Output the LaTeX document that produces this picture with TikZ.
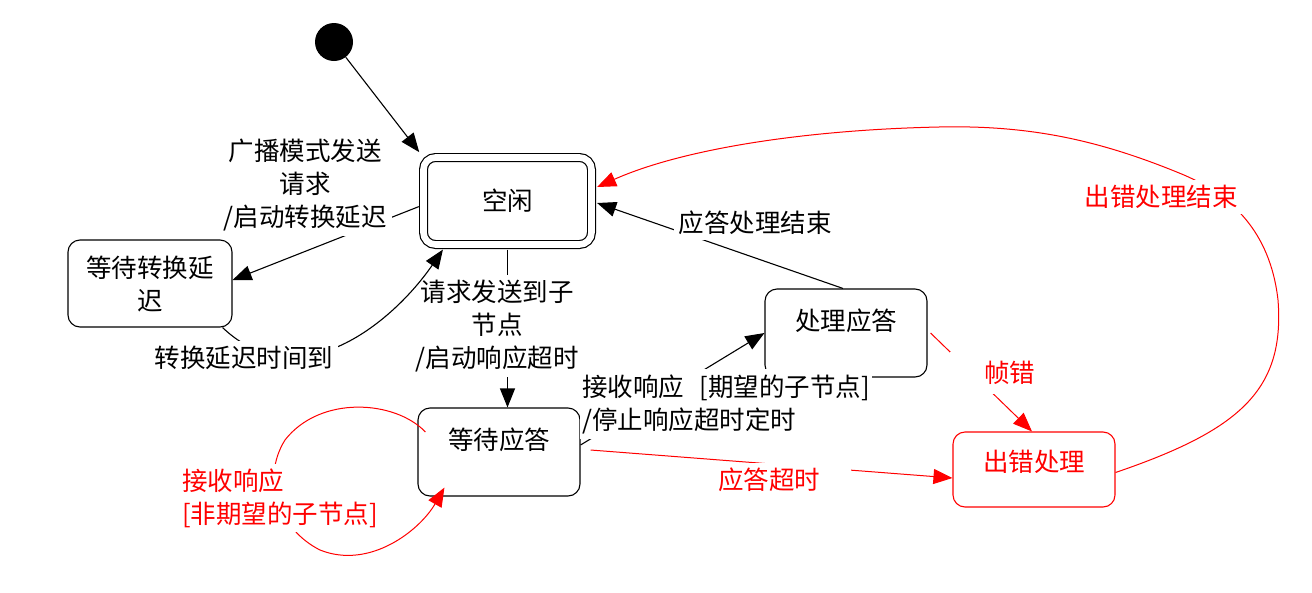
\documentclass[tikz,border=0pt]{standalone}
\usepackage{fontspec}
\setmainfont{Noto Sans CJK SC}
\usetikzlibrary{arrows.meta}

\begin{document}
\begin{tikzpicture}[x=1pt, y=-1pt, font=\fontsize{25.5pt}{33pt}\selectfont,
	state/.style={draw, rounded corners=12pt, line width=1.1pt, minimum width=162pt, minimum height=88pt},
	lbl/.style={fill=white, inner sep=5pt},
	>={Triangle[length=19pt, width=15pt]}]

	\path[use as bounding box, fill=white] (0,0) rectangle (1312,592);

	\node[circle, fill, minimum size=38pt, inner sep=0pt] (start) at (334,42) {};
	\node[state, double, double distance=6.6pt, line width=1.2pt, minimum width=168pt, minimum height=87pt] (idle) at (507.5,201) {空闲};
	\node[state, align=center, minimum width=164pt, minimum height=87pt] (wait) at (150,283.5) {等待转换延\\迟};
	\node[state, text depth=27pt] (resp) at (499,452) {等待应答};
	\node[state, text depth=27pt] (proc) at (846,333) {处理应答};
	\node[state, red, text depth=18pt, minimum height=75pt] (fault) at (1034,469.5) {出错处理};

	% black transitions
	\draw[->, line width=1.1pt, shorten >=6pt] (start) -- (idle.north west);
	\draw[->, line width=1.1pt, shorten <=4.5pt] ([yshift=-4pt]idle.west) -- ([yshift=3.5pt]wait.east);
	\node[lbl, align=center] (l1) at (305,185) {广播模式发送\\请求\\/启动转换延迟};

	\draw[->, line width=1.1pt, shorten <=4.5pt] (idle.south) -- (idle.south |- resp.north);
	\node[lbl, align=center, inner xsep=0pt] (l3) at (497,326) {请求发送到子\\节点\\/启动响应超时};

	\draw[->, line width=1.1pt] ([xshift=-10pt]wait.south east) .. controls +(78,74) and +(-48,70) .. ([xshift=20pt, yshift=-4.5pt]idle.south west);
	\node[lbl] (l2) at (244,358) {转换延迟时间到};

	\draw[->, line width=1.1pt] ([yshift=7pt]resp.east) -- (proc.west);
	\node[lbl, align=left, anchor=west, inner xsep=2pt] (l4) at (580,404) {接收响应\hspace{0.6em}[期望的子节点]\\/停止响应超时定时};

	\draw[->, line width=1.1pt] ([xshift=-3pt]proc.north) -- ([xshift=5pt, yshift=-2pt]idle.east);
	\node[lbl] (l5) at (755,223) {应答处理结束};

	% red transitions
	\draw[->, red, line width=1pt] ([xshift=8pt, yshift=20pt]resp.west) .. controls (395,400) and (320,395) .. (285,440) .. controls (260,480) and (280,530) .. (320,550) .. controls (370,570) and (420,530) .. ([xshift=27pt, yshift=9pt]resp.south west);
	\node[lbl, text=red, align=left] (l9) at (280,498) {接收响应\\{[}非期望的子节点{]}};

	\draw[->, red, line width=1pt] ([xshift=10pt, yshift=2pt]resp.east) -- ([yshift=-8.5pt]fault.west);
	\node[lbl, text=red, text width=128pt, align=left] (l7) at (782,480) {应答超时};

	\draw[->, red, line width=1pt] ([xshift=3pt]proc.east) -- ([xshift=-2pt]fault.north);
	\node[lbl, text=red, text width=80pt, align=right, minimum height=42pt] (l6) at (995,373) {帧错};

	\draw[->, red, line width=1pt] ([yshift=-3pt]fault.east) .. controls (1240,430) and (1285,390) .. (1278,300) .. controls (1270,230) and (1230,195) .. (1184,175) .. controls (1100,140) and (1030,125) .. (939,127) .. controls (800,130) and (680,150) .. ([xshift=5pt, yshift=14pt]idle.east);
	\node[lbl, text=red] (l8) at (1161,197) {出错处理结束};
\end{tikzpicture}
\end{document}
